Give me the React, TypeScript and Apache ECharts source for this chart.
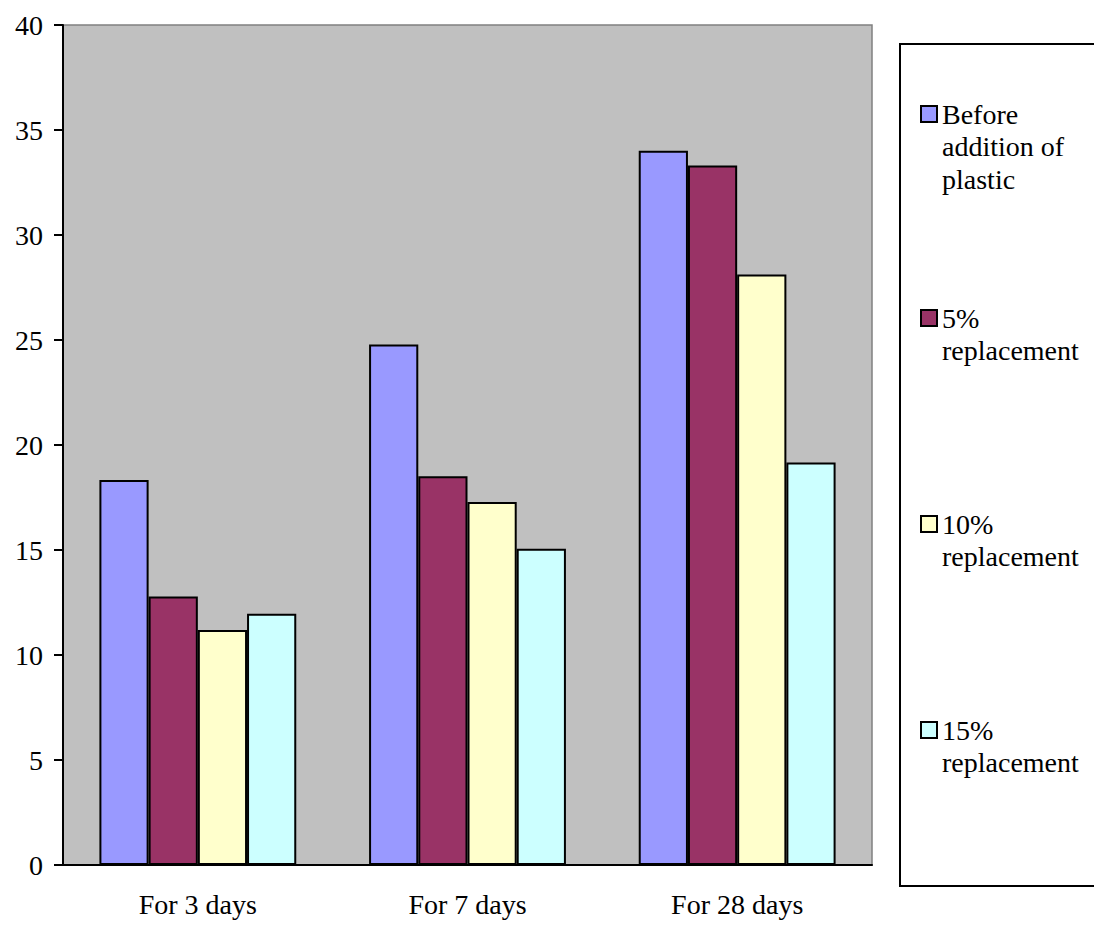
import React, { useEffect, useRef } from "react";
import * as echarts from "echarts";

const categories = ["For 3 days", "For 7 days", "For 28 days"];
const seriesNames = [
  "Before addition of plastic",
  "5% replacement",
  "10% replacement",
  "15% replacement",
];
const legendLabels = [
  "Before\naddition of\nplastic",
  "5%\nreplacement",
  "10%\nreplacement",
  "15%\nreplacement",
];
const beforeValues = [18.33, 24.79, 34.01];
const rep5Values = [12.78, 18.51, 33.31];
const rep10Values = [11.19, 17.29, 28.12];
const rep15Values = [11.97, 15.06, 19.17];
const colors = ["#9999ff", "#993366", "#ffffcc", "#ccffff"];

const FONT = "'Liberation Serif', 'Times New Roman', serif";

export default function App() {
  const ref = useRef<HTMLDivElement>(null);
  useEffect(() => {
    document.body.style.margin = "0";
    const chart = echarts.init(ref.current!, null, { renderer: "svg" });
    const allValues = [beforeValues, rep5Values, rep10Values, rep15Values];
    const L = 32.5;
    const centers = [114, 318, 524, 730];
    const lineCounts = [3, 2, 2, 2];
    chart.setOption({
      animation: false,
      textStyle: { fontFamily: FONT },
      grid: {
        left: 63,
        top: 25,
        right: 222,
        bottom: 60,
        show: true,
        backgroundColor: "#c0c0c0",
        borderColor: "#808080",
        borderWidth: 1.5,
      },
      graphic: [
        {
          type: "rect",
          shape: { x: 900, y: 44, width: 220, height: 842 },
          style: { fill: "#ffffff", stroke: "#000000", lineWidth: 2 },
          z: 0,
        },
      ],
      legend: seriesNames.map((name, i) => {
        const n = lineCounts[i];
        const total = 2 * n - 1;
        const label = "\n".repeat(n - 1) + legendLabels[i];
        return {
          data: [name],
          left: 920,
          top: centers[i] - (total * L) / 2,
          padding: 0,
          icon: "rect",
          itemWidth: 16,
          itemHeight: 16,
          itemGap: 0,
          selectedMode: false,
          z: 5,
          itemStyle: { borderColor: "#000000", borderWidth: 2 },
          formatter: () => label,
          textStyle: {
            fontFamily: FONT,
            fontSize: 28,
            color: "#000000",
            lineHeight: L,
          },
        };
      }),
      xAxis: {
        type: "category",
        data: categories,
        axisLine: { lineStyle: { color: "#000000", width: 2 } },
        axisTick: { length: 10, lineStyle: { color: "#000000", width: 2 } },
        axisLabel: {
          fontFamily: FONT,
          fontSize: 28,
          color: "#000000",
          margin: 25,
        },
      },
      yAxis: {
        type: "value",
        min: 0,
        max: 40,
        interval: 5,
        splitLine: { show: false },
        axisLine: { show: true, lineStyle: { color: "#000000", width: 2 } },
        axisTick: { show: true, length: 9, lineStyle: { color: "#000000", width: 2 } },
        axisLabel: {
          fontFamily: FONT,
          fontSize: 28,
          color: "#000000",
          margin: 20,
        },
      },
      series: seriesNames.map((name, i) => ({
        name,
        type: "bar",
        data: allValues[i],
        barGap: "0%",
        barCategoryGap: "27%",
        itemStyle: { color: colors[i], borderColor: "#000000", borderWidth: 2 },
      })),
    });
    return () => chart.dispose();
  }, []);
  return <div ref={ref} style={{ width: 1094, height: 925 }} />;
}
